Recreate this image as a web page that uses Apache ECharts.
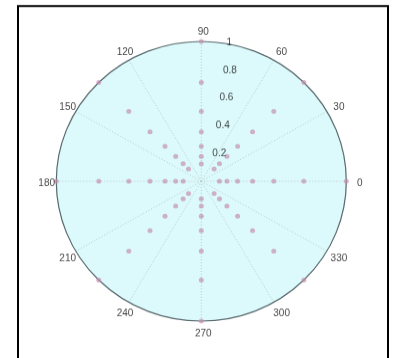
<!DOCTYPE html>
<html>
<head>
<meta charset="utf-8">
<script src="https://cdn.jsdelivr.net/npm/echarts@6/dist/echarts.min.js"></script>
<style>
  html, body { margin: 0; padding: 0; background: #ffffff; overflow: hidden; }
  /* the plot is drawn slightly flattened vertically, like the original figure window */
  #chart { width: 397px; height: 371px; transform: scaleY(0.964); transform-origin: 0 0; }
</style>
</head>
<body>
<div id="chart"></div>
<script>
// Angle tick labels (degrees, counter-clockwise from the right)
const angleTicks = [0, 30, 60, 90, 120, 150, 180, 210, 240, 270, 300, 330];
// Radius rings and their labels
const ringTicks = [0.2, 0.4, 0.6, 0.8, 1];
// Directions of the sample points (degrees)
const pointAngles = [0, 45, 90, 135, 180, 225, 270, 315];
// Radii of the sample points along every direction
const pointRadii = [1, 0.707, 0.5, 0.354, 0.25, 0.177, 0.125];

const points = [];
pointAngles.forEach(function (a) {
  pointRadii.forEach(function (r) { points.push([r, a]); });
});

const CENTER = [201.3, 188];
const RADIUS = 145;
const LABEL_RING = 1.08;   // angle labels sit just outside the outer ring
const RING_LABEL_DIR = 83; // direction along which ring values are written
const FONT = 'Liberation Sans, Arial, sans-serif';
const gridLine = { color: '#b9c9cc', width: 1, type: [1, 2] };

const textOnly = { color: 'rgba(0,0,0,0)' };

const chart = echarts.init(document.getElementById('chart'), null, { renderer: 'canvas' });
chart.setOption({
  animation: false,
  backgroundColor: '#ffffff',
  polar: { center: CENTER, radius: RADIUS },
  angleAxis: {
    type: 'value', min: 0, max: 360, interval: 30,
    startAngle: 0, clockwise: false,
    axisLine: { show: true, lineStyle: { color: '#5a6a6e', width: 1.2 } },
    axisTick: { show: false },
    axisLabel: { show: false },
    splitLine: { show: true, lineStyle: gridLine }
  },
  radiusAxis: {
    type: 'value', min: 0, max: 1, interval: 0.2,
    axisLine: { show: false }, axisTick: { show: false },
    axisLabel: { show: false },
    splitLine: { show: true, lineStyle: gridLine },
    splitArea: { show: true, areaStyle: { color: ['#dcfafb'] } }
  },
  series: [
    {
      name: 'points',
      type: 'scatter',
      coordinateSystem: 'polar',
      data: points,
      symbol: 'circle',
      symbolSize: 5,
      itemStyle: { color: 'rgba(196,140,176,0.85)' },
      clip: false,
      z: 5
    },
    {
      // angle tick labels, centred just outside the outer ring
      name: 'angle labels',
      type: 'scatter',
      coordinateSystem: 'polar',
      silent: true,
      clip: false,
      data: angleTicks.map(function (a) { return [LABEL_RING, a]; }),
      symbolSize: 1,
      itemStyle: textOnly,
      label: {
        show: true, position: 'inside', offset: [2, 2],
        fontSize: 10, fontFamily: FONT, color: '#111',
        formatter: function (p) { return String(p.value[1]); }
      },
      z: 6
    },
    {
      // ring value labels
      name: 'ring labels',
      type: 'scatter',
      coordinateSystem: 'polar',
      silent: true,
      clip: false,
      data: ringTicks.map(function (r) { return [r, RING_LABEL_DIR]; }),
      symbolSize: 1,
      itemStyle: textOnly,
      label: {
        show: true, position: 'right', distance: 7,
        fontSize: 10, fontFamily: FONT, color: '#111',
        formatter: function (p) { return String(p.value[0]); }
      },
      z: 6
    }
  ],
  graphic: [
    {
      type: 'rect',
      shape: { x: 18, y: 6.2, width: 370, height: 380 },
      style: { fill: null, stroke: '#000', lineWidth: 2 },
      z: 100
    }
  ]
});
</script>
</body>
</html>
